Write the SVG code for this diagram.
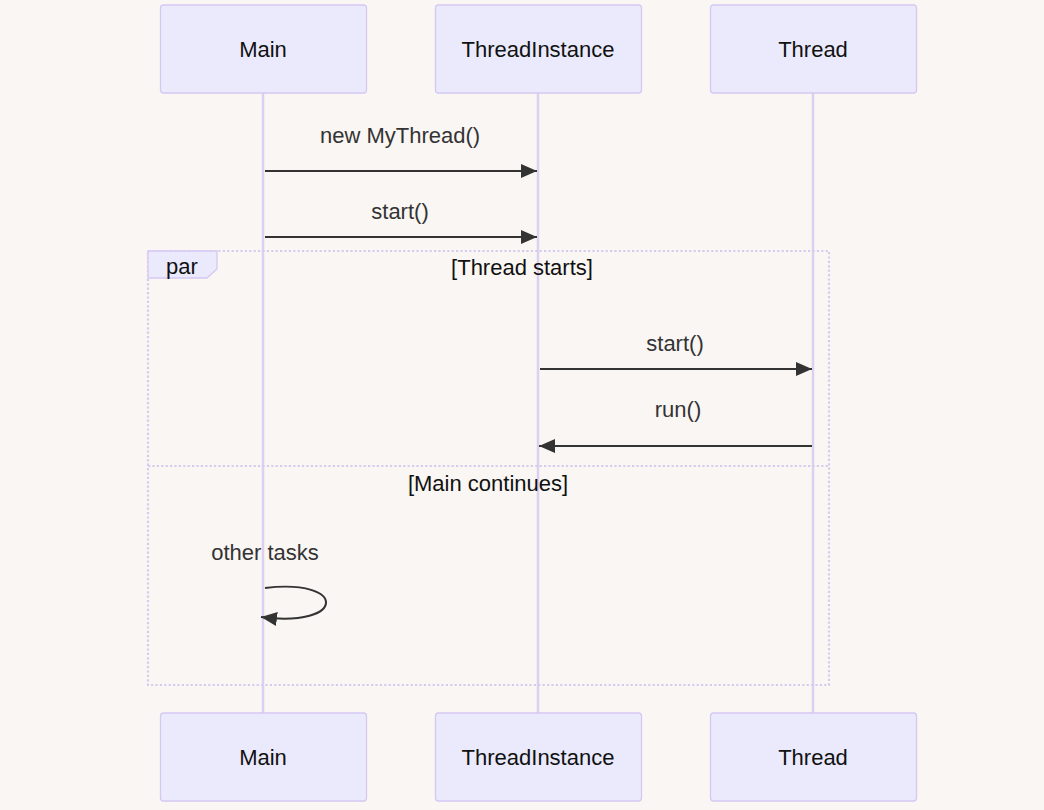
<svg xmlns="http://www.w3.org/2000/svg" width="1044" height="810" viewBox="0 0 1044 810">
<style>
.actor{fill:#eaeafc;stroke:#d6c8f2;stroke-width:1.3}
.atext{font-family:"Liberation Sans",Arial,sans-serif;font-size:22px;fill:#111;text-anchor:middle;dominant-baseline:central}
.life{stroke:#dbd0f2;stroke-width:2.5;fill:none}
.msg{stroke:#333;stroke-width:2;fill:none}
.mtext{font-family:"Liberation Sans",Arial,sans-serif;font-size:22px;fill:#333;text-anchor:middle;dominant-baseline:central}
.loop{stroke:#d6cbef;stroke-width:2.2;stroke-dasharray:2.2,2.2;fill:none}
.ltext{font-family:"Liberation Sans",Arial,sans-serif;font-size:22px;fill:#111;text-anchor:middle;dominant-baseline:central}
</style>
<defs>
<marker id="arrow" markerUnits="userSpaceOnUse" markerWidth="18" markerHeight="16" refX="16" refY="7" orient="auto">
<path d="M0,0 L16,7 L0,14 z" fill="#333"/>
</marker>
</defs>
<rect width="1044" height="810" fill="#faf6f3"/>
<g id="lifelines">
<line class="life" x1="263" y1="93" x2="263" y2="713"/>
<line class="life" x1="538" y1="93" x2="538" y2="713"/>
<line class="life" x1="813" y1="93" x2="813" y2="713"/>
</g>
<g id="par">
<rect class="loop" x="148" y="251" width="681" height="434"/>
<line class="loop" x1="148" y1="466" x2="829" y2="466"/>
<path d="M148,251 L217,251 L217,269 L207,278 L148,278 Z" fill="#eaeafc" stroke="#d6c8f2" stroke-width="1.3"/>
<text class="ltext" x="182" y="266">par</text>
<text class="ltext" x="522" y="267">[Thread starts]</text>
<text class="ltext" x="488" y="483">[Main continues]</text>
</g>
<g id="actor-main-top"><rect class="actor" x="160.5" y="5" width="206" height="88" rx="3"/><text class="atext" x="263" y="49">Main</text></g>
<g id="actor-ti-top"><rect class="actor" x="435.5" y="5" width="206" height="88" rx="3"/><text class="atext" x="538" y="49">ThreadInstance</text></g>
<g id="actor-thread-top"><rect class="actor" x="710.5" y="5" width="206" height="88" rx="3"/><text class="atext" x="813" y="49">Thread</text></g>
<g id="actor-main-bottom"><rect class="actor" x="160.5" y="713" width="206" height="88" rx="3"/><text class="atext" x="263" y="757">Main</text></g>
<g id="actor-ti-bottom"><rect class="actor" x="435.5" y="713" width="206" height="88" rx="3"/><text class="atext" x="538" y="757">ThreadInstance</text></g>
<g id="actor-thread-bottom"><rect class="actor" x="710.5" y="713" width="206" height="88" rx="3"/><text class="atext" x="813" y="757">Thread</text></g>
<g id="connectors">
<line class="msg" x1="265" y1="171" x2="537" y2="171" marker-end="url(#arrow)"/>
<text class="mtext" x="400" y="135">new MyThread()</text>
<line class="msg" x1="265" y1="237" x2="537" y2="237" marker-end="url(#arrow)"/>
<text class="mtext" x="400" y="211">start()</text>
<line class="msg" x1="540" y1="369" x2="812" y2="369" marker-end="url(#arrow)"/>
<text class="mtext" x="675" y="343">start()</text>
<line class="msg" x1="812" y1="446" x2="539" y2="446" marker-end="url(#arrow)"/>
<text class="mtext" x="678" y="409">run()</text>
<path class="msg" d="M265,588 C347,578 347,628 261,617" marker-end="url(#arrow)"/>
<text class="mtext" x="265" y="552">other tasks</text>
</g>
</svg>
